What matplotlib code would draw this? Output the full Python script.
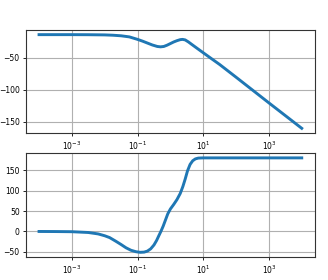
import matplotlib
matplotlib.use("Agg")
import matplotlib.pyplot as plt
from matplotlib.ticker import NullLocator

# log10 of frequency (rad/s) and magnitude (dB)
mag_logw = [-4.0, -3.0, -2.5, -2.0, -1.75, -1.5, -1.25, -1.0, -0.85, -0.7, -0.55, -0.4,
            -0.3, -0.2, -0.1, 0.0, 0.1, 0.2, 0.3, 0.37, 0.45, 0.55, 0.65, 0.8, 1.0,
            1.25, 1.5, 2.0, 2.5, 3.0, 3.5, 4.0]
mag_db = [-14.4, -14.4, -14.5, -14.8, -15.3, -16.2, -17.9, -21.8, -24.5, -27.5, -30.5, -32.8,
          -33.4, -32.8, -30.8, -28.3, -25.8, -23.8, -22.2, -21.8, -22.6, -25.8, -29.6, -35.2, -42.6,
          -51.8, -60.9, -80.7, -100.7, -120.7, -140.5, -160.3]

# log10 of frequency (rad/s) and phase (deg)
ph_logw = [-4.0, -3.5, -3.0, -2.5, -2.2, -2.0, -1.85, -1.66, -1.5, -1.35, -1.2, -1.05,
           -0.92, -0.8, -0.7, -0.6, -0.5, -0.42, -0.35, -0.29, -0.22, -0.15, -0.08, 0.0,
           0.1, 0.2, 0.3, 0.38, 0.45, 0.52, 0.6, 0.68, 0.76, 0.85, 1.0, 1.3, 2.0, 3.0, 4.0]
ph_deg = [0.0, -0.2, -0.6, -2.5, -6.0, -10.5, -15.0, -24.0, -32.0, -40.0, -46.0, -49.5,
          -51.0, -50.5, -48.0, -42.5, -33.0, -22.0, -10.0, 0.0, 13.0, 28.0, 43.0, 55.0,
          66.0, 78.0, 93.0, 110.0, 128.0, 148.0, 164.0, 173.0, 177.5, 179.5, 180.0, 180.0, 180.0, 180.0, 180.0]

mag_w = [10 ** v for v in mag_logw]
ph_w = [10 ** v for v in ph_logw]

fig = plt.figure(figsize=(3.28, 2.80), dpi=100)
ax1 = fig.add_axes([0.079, 0.525, 0.881, 0.368])
ax2 = fig.add_axes([0.079, 0.082, 0.881, 0.371])

line_color = "#1f77b4"
ax1.semilogx(mag_w, mag_db, color=line_color, lw=2.1)
ax1.grid(True, which="major", color="#b0b0b0", lw=0.8)
ax1.set_xlabel("Frequency (rad/sec)", fontsize=6.5, labelpad=1)
ax1.set_yticks([-50, -100, -150])

ax2.semilogx(ph_w, ph_deg, color=line_color, lw=2.1)
ax2.grid(True, which="major", color="#b0b0b0", lw=0.8)
ax2.set_yticks([-50, 0, 50, 100, 150])

for ax in (ax1, ax2):
    ax.set_xticks([1e-3, 1e-1, 1e1, 1e3])
    ax.xaxis.set_minor_locator(NullLocator())
    ax.tick_params(labelsize=5.5, length=2.5, width=0.6, pad=2)
    for s in ax.spines.values():
        s.set_linewidth(0.8)
        s.set_color("#333333")

fig.savefig("out.png", dpi=100)
